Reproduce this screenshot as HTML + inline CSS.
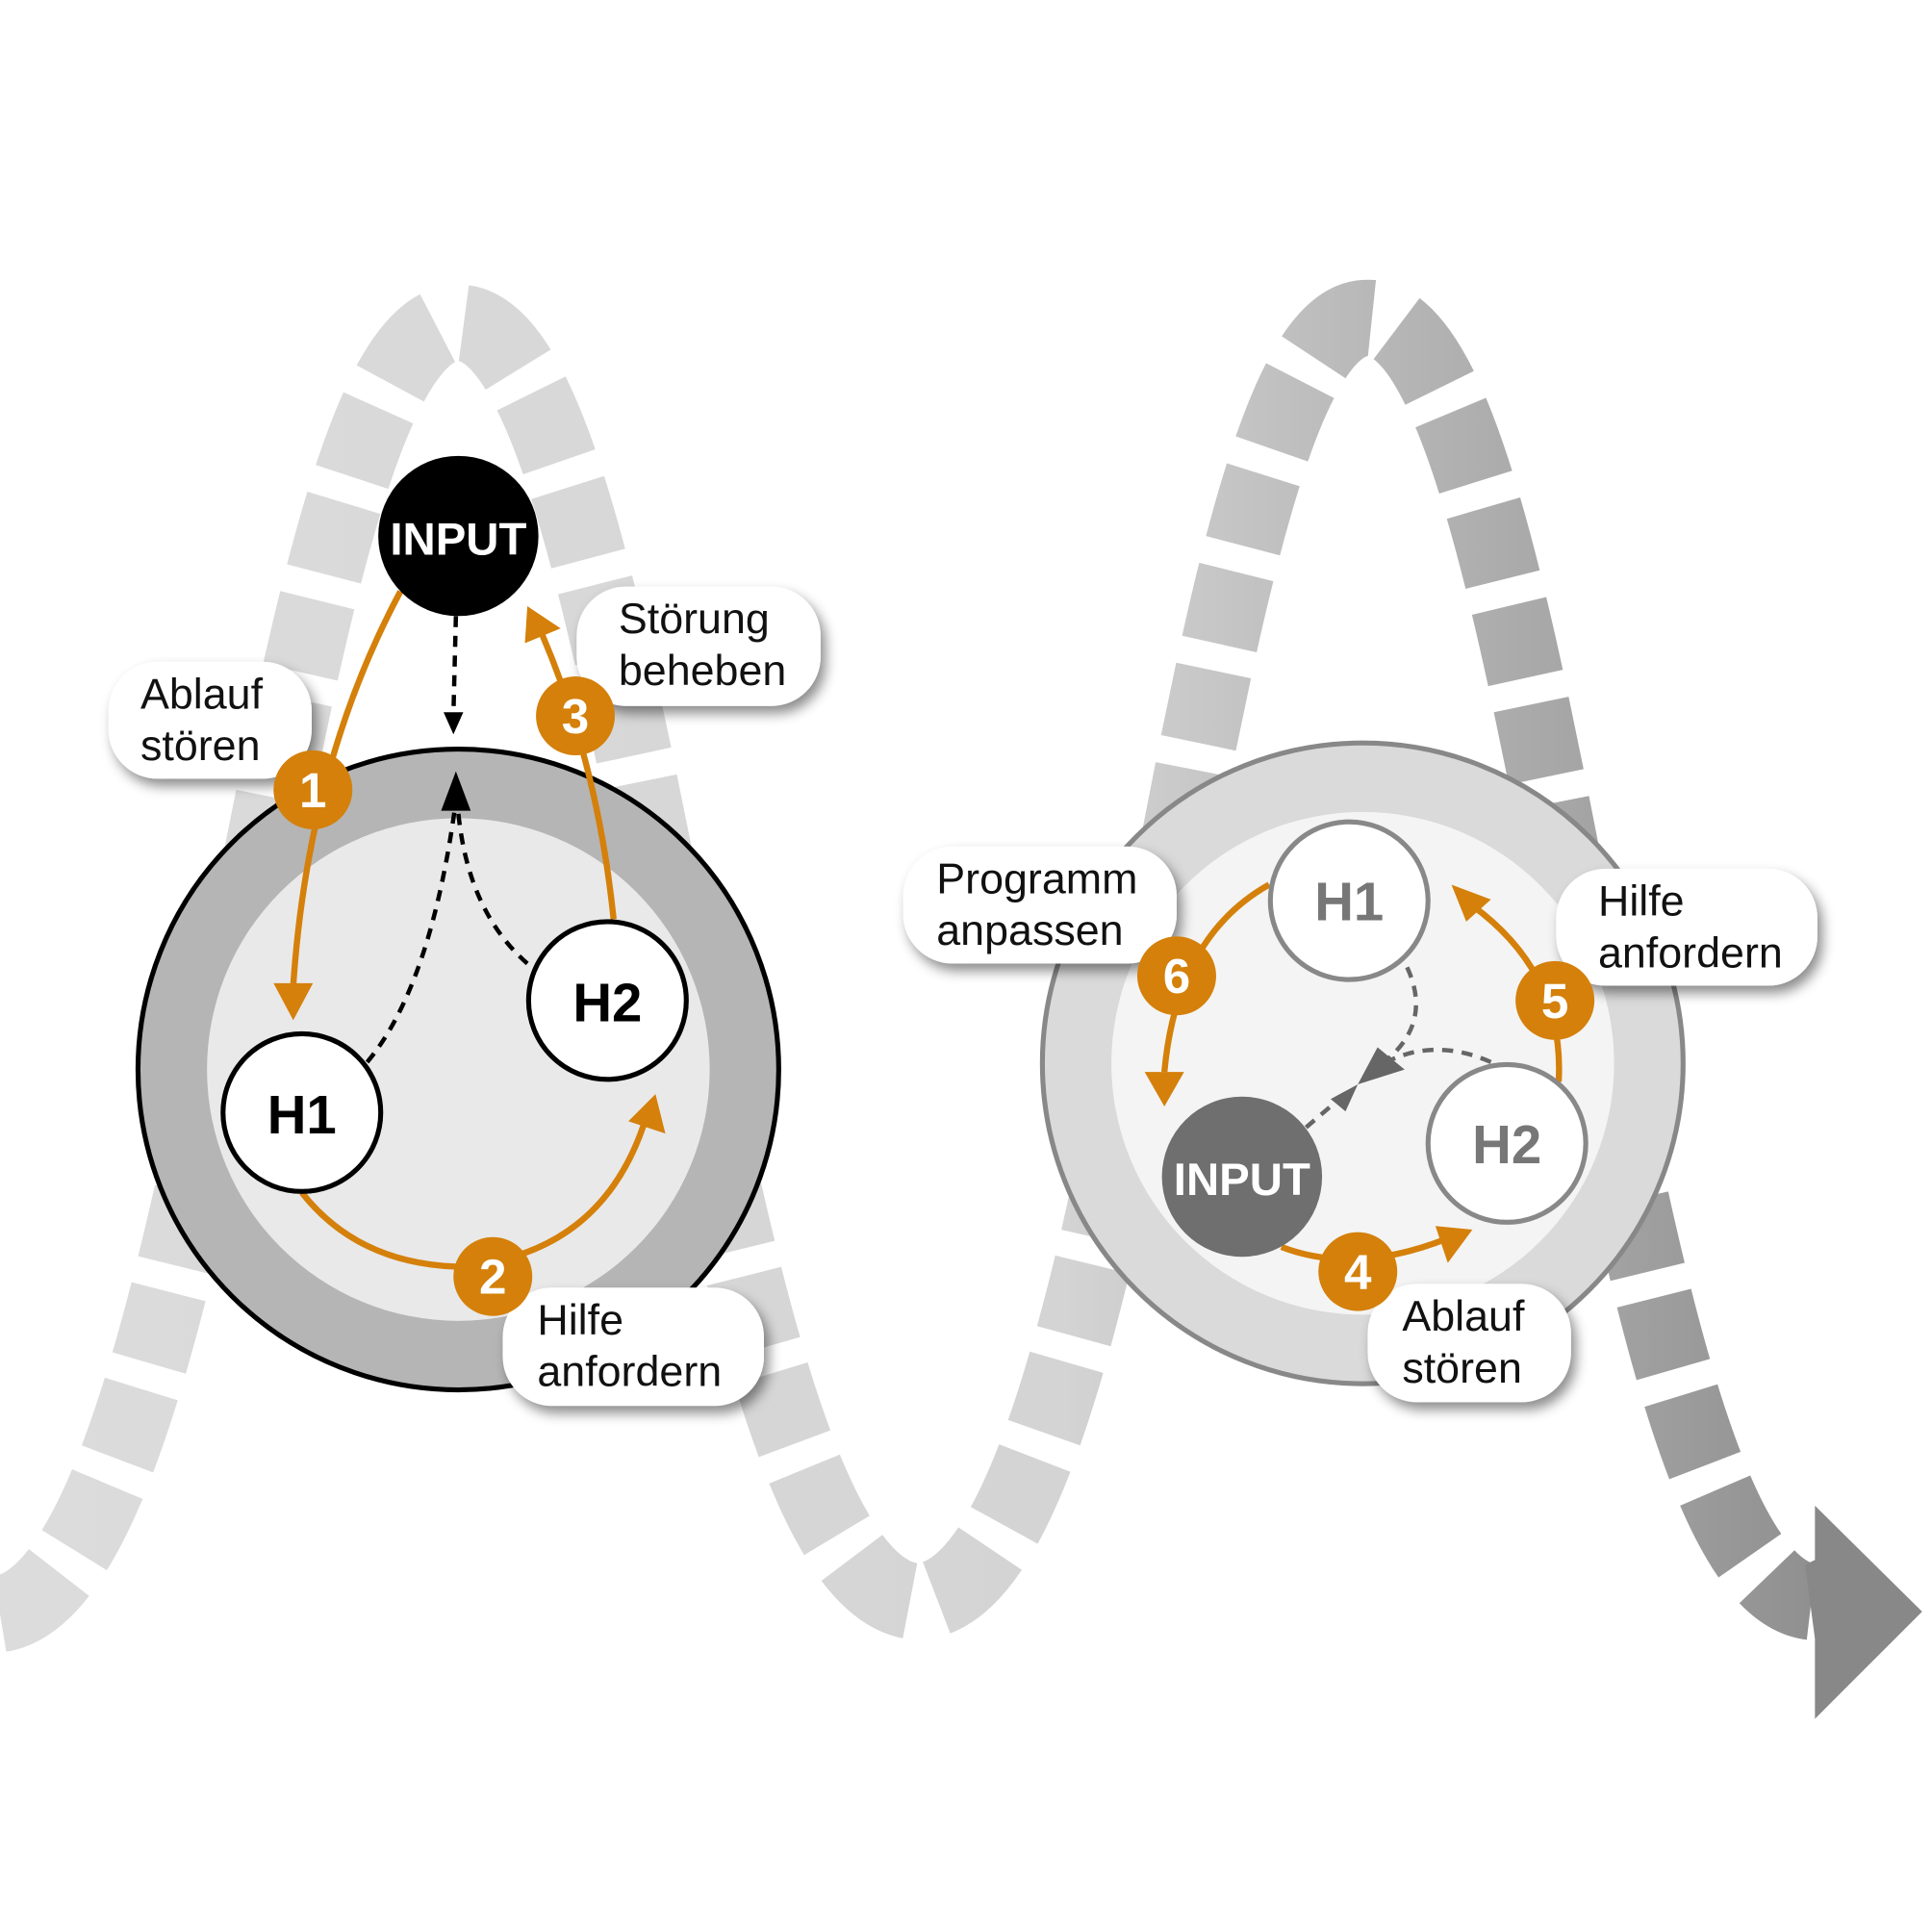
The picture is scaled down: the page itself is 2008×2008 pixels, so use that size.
<!DOCTYPE html>
<html><head><meta charset="utf-8">
<style>html,body{margin:0;padding:0;background:#fff;}svg{display:block;}</style></head>
<body>
<svg width="2008" height="2008" viewBox="0 0 1568 1568" xmlns="http://www.w3.org/2000/svg" font-family="Liberation Sans, sans-serif">
<defs>
<linearGradient id="wg" x1="0" y1="0" x2="1568" y2="0" gradientUnits="userSpaceOnUse">
<stop offset="0" stop-color="#dcdcdc"/><stop offset="0.55" stop-color="#d4d4d4"/><stop offset="1" stop-color="#858585"/>
</linearGradient>
<filter id="sh" x="-20%" y="-20%" width="150%" height="160%"><feDropShadow dx="4" dy="6" stdDeviation="5" flood-color="#000" flood-opacity="0.45"/></filter>
</defs>
<path d="M 0 1310 C 180 1280, 220 262, 372 262 C 524 262, 564 1290, 745 1300 C 926 1290, 960 258, 1110 258 C 1260 258, 1300 1280, 1470 1300" fill="none" stroke="url(#wg)" stroke-width="62" stroke-dasharray="60 22"/>
<polygon points="1473,1222 1560,1308 1473,1395 1473,1330 1465,1270 1473,1266" fill="#888"/>

<!-- left circle -->
<circle cx="372" cy="868" r="260" fill="#b5b5b5" stroke="#000" stroke-width="4"/>
<circle cx="372" cy="868" r="204" fill="#e9e9e9"/>
<!-- dashed black -->
<g fill="none" stroke="#000" stroke-width="3.5" stroke-dasharray="9 7">
<path d="M 370 500 L 368 580"/>
<path d="M 298 862 Q 350 800 370 650"/>
<path d="M 428 782 Q 380 740 372 660"/>
</g>
<polygon points="360,578 376,578 368,596" fill="#000"/>
<polygon points="358,658 382,658 370,626" fill="#000"/>
<!-- orange left -->
<g fill="none" stroke="#d4800a" stroke-width="5">
<path d="M 325 480 Q 250 620 238 800"/>
<path d="M 245 968 Q 290 1025 370 1028 Q 490 1020 525 905"/>
<path d="M 498 746 Q 485 620 440 515"/>
</g>
<polygon points="222,798 254,798 238,828" fill="#d4800a"/>
<polygon points="510,910 540,920 532,888" fill="#d4800a"/>
<polygon points="426,522 455,510 428,492" fill="#d4800a"/>
<circle cx="372" cy="435" r="65" fill="#000"/>
<text x="372" y="450" text-anchor="middle" font-size="37" font-weight="bold" fill="#fff">INPUT</text>
<circle cx="245" cy="903" r="64" fill="#fff" stroke="#000" stroke-width="4"/>
<text x="245" y="920" text-anchor="middle" font-size="44" font-weight="bold">H1</text>
<circle cx="493" cy="812" r="64" fill="#fff" stroke="#000" stroke-width="4"/>
<text x="493" y="829" text-anchor="middle" font-size="44" font-weight="bold">H2</text>

<!-- right circle -->
<circle cx="1106" cy="863" r="260" fill="#dadada" stroke="#888" stroke-width="4"/>
<circle cx="1106" cy="863" r="204" fill="#f4f4f4"/>
<g fill="none" stroke="#666" stroke-width="3.5" stroke-dasharray="9 7">
<path d="M 1142 785 Q 1165 835 1115 868"/>
<path d="M 1210 862 Q 1165 842 1125 862"/>
<path d="M 1060 915 L 1095 885"/>
</g>
<polygon points="1102,880 1140,868 1118,850" fill="#666"/>
<polygon points="1080,892 1102,880 1092,902" fill="#666"/>
<g fill="none" stroke="#d4800a" stroke-width="5">
<path d="M 1030 718 Q 955 760 945 870"/>
<path d="M 1265 878 Q 1270 790 1195 735"/>
<path d="M 1040 1012 Q 1100 1035 1175 1005"/>
</g>
<polygon points="929,870 961,870 945,898" fill="#d4800a"/>
<polygon points="1178,718 1210,730 1190,748" fill="#d4800a"/>
<polygon points="1165,995 1195,998 1175,1025" fill="#d4800a"/>
<circle cx="1095" cy="731" r="64" fill="#fff" stroke="#888" stroke-width="4"/>
<text x="1095" y="747" text-anchor="middle" font-size="44" font-weight="bold" fill="#777">H1</text>
<circle cx="1223" cy="928" r="64" fill="#fff" stroke="#888" stroke-width="4"/>
<text x="1223" y="944" text-anchor="middle" font-size="44" font-weight="bold" fill="#777">H2</text>
<circle cx="1008" cy="955" r="65" fill="#6f6f6f"/>
<text x="1008" y="970" text-anchor="middle" font-size="37" font-weight="bold" fill="#fff">INPUT</text>

<!-- labels -->
<g filter="url(#sh)" fill="#fff">
<rect x="88" y="537" width="165" height="95" rx="40"/>
<rect x="468" y="476" width="198" height="97" rx="40"/>
<rect x="408" y="1045" width="212" height="96" rx="40"/>
<rect x="733" y="687" width="222" height="95" rx="40"/>
<rect x="1263" y="705" width="212" height="95" rx="40"/>
<rect x="1110" y="1042" width="165" height="96" rx="40"/>
</g>
<g font-size="35" fill="#111">
<text x="114" y="575">Ablauf</text><text x="114" y="617">stören</text>
<text x="502" y="514">Störung</text><text x="502" y="556">beheben</text>
<text x="436" y="1083">Hilfe</text><text x="436" y="1125">anfordern</text>
<text x="760" y="725">Programm</text><text x="760" y="767">anpassen</text>
<text x="1297" y="743">Hilfe</text><text x="1297" y="785">anfordern</text>
<text x="1138" y="1080">Ablauf</text><text x="1138" y="1122">stören</text>
</g>
<!-- badges -->
<g fill="#d4800a">
<circle cx="254" cy="641" r="32"/><circle cx="400" cy="1036" r="32"/><circle cx="467" cy="581" r="32"/>
<circle cx="955" cy="792" r="32"/><circle cx="1262" cy="812" r="32"/><circle cx="1102" cy="1032" r="32"/>
</g>
<g font-size="40" font-weight="bold" fill="#fff" text-anchor="middle">
<text x="254" y="655">1</text><text x="400" y="1050">2</text><text x="467" y="595">3</text>
<text x="955" y="806">6</text><text x="1262" y="826">5</text><text x="1102" y="1046">4</text>
</g>
</svg>
</body></html>
